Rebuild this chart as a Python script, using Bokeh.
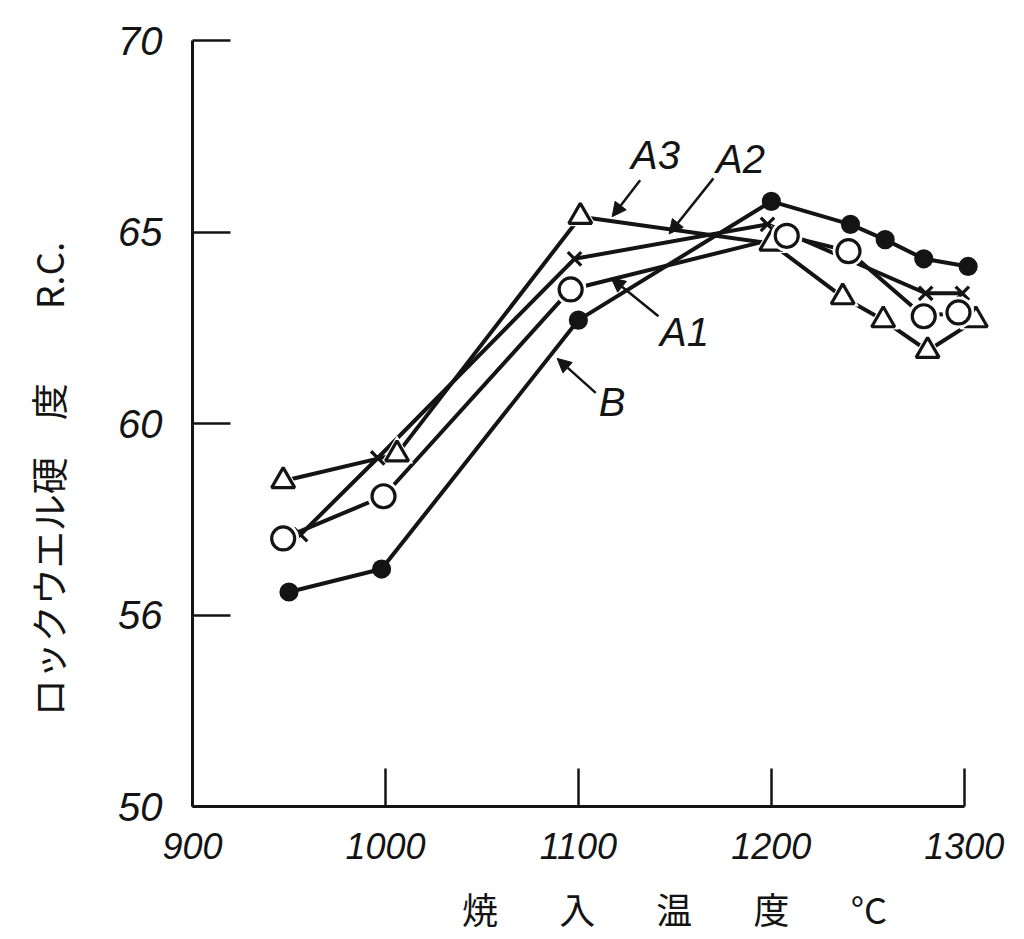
from bokeh.plotting import figure
from bokeh.models import Label, Arrow, NormalHead, FixedTicker, ColumnDataSource
from bokeh.embed import file_html
from bokeh.resources import INLINE

# ---- data ----
temp_B = [950, 998, 1100, 1200, 1241, 1259, 1279, 1302]
hard_B = [55.6, 56.2, 62.7, 65.8, 65.2, 64.8, 64.3, 64.1]

temp_A1 = [947, 999, 1096, 1208, 1240, 1279, 1297]
hard_A1 = [57.0, 58.1, 63.5, 64.9, 64.5, 62.8, 62.9]

temp_A2 = [956, 996, 1098, 1198, 1280, 1299]
hard_A2 = [57.1, 59.1, 64.3, 65.2, 63.4, 63.4]

temp_A3 = [947, 1006, 1101, 1200, 1237, 1258, 1281, 1306]
hard_A3 = [58.5, 59.2, 65.4, 64.7, 63.3, 62.7, 61.9, 62.7]

x_ticks = [900, 1000, 1100, 1200, 1300]
x_tick_labels = ["900", "1000", "1100", "1200", "1300"]
y_ticks = [50, 55, 60, 65, 70]
y_tick_labels = ["50", "56", "60", "65", "70"]

SEP = "　\u2002\u2009"
x_title = "　　　　" + SEP.join(["焼", "入", "温", "度", "°C"])
y_title = "ロックウエル硬　度　　R.C.　　　"

NUM_FONT = "'Liberation Sans Narrow', 'Liberation Sans', sans-serif"
CJK_FONT = "Noto Sans CJK JP"
INK = "#141414"

p = figure(width=1024, height=939, x_range=(900, 1325), y_range=(50, 70),
           output_backend="svg", toolbar_location=None,
           min_border_left=192, min_border_right=12,
           min_border_top=40, min_border_bottom=133)
p.background_fill_color = "white"
p.border_fill_color = "white"
p.outline_line_color = None
p.grid.visible = False

for ax in (p.xaxis[0], p.yaxis[0]):
    ax.axis_line_width = 3
    ax.axis_line_color = INK
    ax.major_tick_line_width = 2.5
    ax.major_tick_line_color = INK
    ax.major_tick_in = 38
    ax.major_tick_out = 0
    ax.minor_tick_in = 0
    ax.minor_tick_out = 0
    ax.major_label_text_font = NUM_FONT
    ax.major_label_text_font_style = "italic"
    ax.major_label_text_color = INK
    ax.axis_label_text_font = CJK_FONT
    ax.axis_label_text_font_style = "normal"
    ax.axis_label_text_color = INK

p.xaxis.major_label_text_font_size = "36px"
p.yaxis.major_label_text_font_size = "40px"
p.xaxis.major_label_standoff = 26
p.yaxis.major_label_standoff = 30

p.xaxis.ticker = FixedTicker(ticks=x_ticks)
p.xaxis.major_label_overrides = dict(zip(x_ticks, x_tick_labels))
p.xaxis.bounds = (900, 1300)
p.yaxis.ticker = FixedTicker(ticks=y_ticks)
p.yaxis.major_label_overrides = dict(zip(y_ticks, y_tick_labels))

p.xaxis.axis_label = x_title
p.xaxis.axis_label_text_font_size = "36px"
p.xaxis.axis_label_standoff = 20
p.yaxis.axis_label = y_title
p.yaxis.axis_label_text_font_size = "37px"
p.yaxis.axis_label_standoff = 40

LW = 4
series = [
    (temp_A3, hard_A3, "triangle", 23, "white"),
    (temp_A2, hard_A2, "x", 19, None),
    (temp_A1, hard_A1, "circle", 23, "white"),
    (temp_B, hard_B, "circle", 16, INK),
]

for xs, ys, mk, sz, fill in series:
    p.line(xs, ys, line_color=INK, line_width=LW)

for xs, ys, mk, sz, fill in series:
    src = ColumnDataSource(dict(x=xs, y=ys))
    # white halo to imitate the small gaps where strokes meet markers
    if fill == "white":
        p.scatter("x", "y", source=src, marker=mk, size=sz + 8,
                  fill_color="white", line_color="white", line_width=1)
    p.scatter("x", "y", source=src, marker=mk, size=sz,
              fill_color=fill if fill else None, line_color=INK,
              line_width=3.2)

# ---- series labels with pointer arrows ----
def tag(text, x, y, x0, y0, x1, y1):
    p.add_layout(Label(x=x, y=y, text=text, text_font=NUM_FONT,
                       text_font_style="italic", text_font_size="40px",
                       text_color=INK, text_align="center",
                       text_baseline="middle"))
    p.add_layout(Arrow(x_start=x0, y_start=y0, x_end=x1, y_end=y1,
                       line_width=2.5, line_color=INK,
                       end=NormalHead(size=14, fill_color=INK,
                                      line_color=INK)))

tag("A3", 1140, 67.0, 1132, 66.35, 1117.5, 65.4)
tag("A2", 1184, 66.9, 1170, 66.4, 1147, 64.95)
tag("A1", 1155, 62.4, 1141.5, 62.8, 1117, 63.8)
tag("B", 1117.5, 60.55, 1109, 60.8, 1089, 61.7)

open("out.html", "w").write(file_html(p, INLINE))
